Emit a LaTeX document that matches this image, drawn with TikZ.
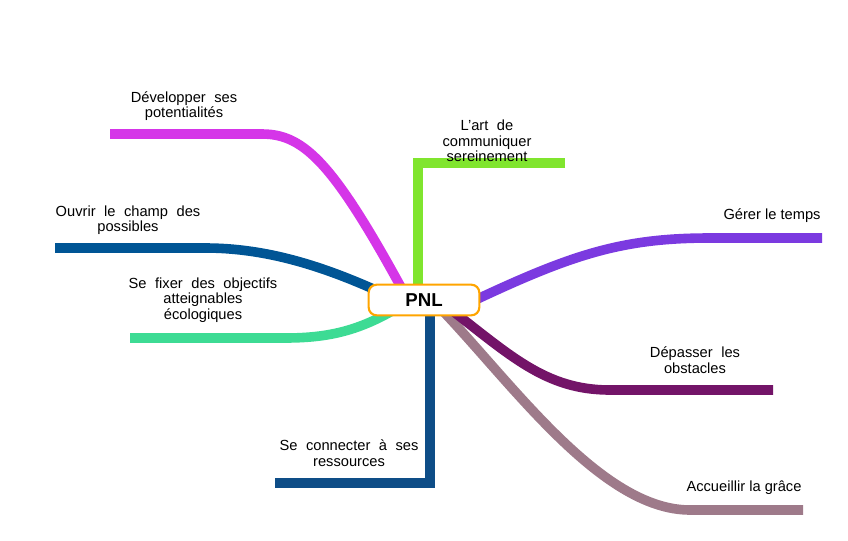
\documentclass[tikz,border=0pt]{standalone}
\usepackage{fontspec}
\setmainfont{Liberation Sans}
\usetikzlibrary{backgrounds}
\definecolor{cMag}{HTML}{D535E8}
\definecolor{cGreen}{HTML}{80E52E}
\definecolor{cBlue}{HTML}{005595}
\definecolor{cTeal}{HTML}{3DDB94}
\definecolor{cBlueB}{HTML}{0E4D87}
\definecolor{cPurple}{HTML}{7B3AE0}
\definecolor{cDPurple}{HTML}{731468}
\definecolor{cMauve}{HTML}{9E7A8A}
\definecolor{cOrange}{HTML}{FFA500}
\newcommand\wsp{\hskip 0.58em\relax}
\tikzset{
  branch/.style={line width=7.2pt},
  lbl/.style={align=center, font=\fontsize{11}{11.5}\selectfont, inner sep=0pt},
  central/.style={draw=cOrange, line width=1.6pt, fill=white, rounded corners=6pt,
    minimum width=83pt, minimum height=23pt, font=\fontsize{14}{16}\selectfont\bfseries}
}
\begin{document}
\begin{tikzpicture}[x=0.75pt,y=-0.75pt]
\useasboundingbox (0,0) rectangle (848,540);
\node[central] (c) at (424,300) {PNL};
% branch end points
\coordinate (mA) at (110,134);
\coordinate (gA) at (565,163);
\coordinate (bA) at (55,248);
\coordinate (tA) at (130,338);
\coordinate (kA) at (275,483);
\coordinate (pA) at (822,238);
\coordinate (dA) at (773,390);
\coordinate (uA) at (803,510);
\begin{scope}[on background layer]
\draw[branch, cMag] (mA) -- (262,134) .. controls (305,134) and (335,165) .. ([xshift=-12pt]c.center);
\draw[branch, cGreen] (gA) -- (418,163) -- ([xshift=-4.5pt]c.center);
\draw[branch, cBlue] (bA) -- (205,248) .. controls (270,248) and (330,268) .. ([xshift=-20pt]c.center);
\draw[branch, cTeal] (tA) -- (285,338) .. controls (330,338) and (360,330) .. ([xshift=-20pt,yshift=-6pt]c.center);
\draw[branch, cBlueB] (kA) -- (430,483) -- ([xshift=4.5pt]c.center);
\draw[branch, cPurple] (pA) -- (710,238) .. controls (620,238) and (570,255) .. ([xshift=30pt,yshift=-4pt]c.center);
\draw[branch, cMauve] (uA) -- (690,510) .. controls (600,510) and (510,380) .. ([xshift=10pt,yshift=-4pt]c.center);
\draw[branch, cDPurple] (dA) -- (610,390) .. controls (545,390) and (510,355) .. ([xshift=16pt,yshift=-4pt]c.center);
\end{scope}
\node[lbl] (l1) at (184,106) {Développer\wsp ses\\potentialités};
\node[lbl] (l2) at (487,141) {L'art\wsp de\\communiquer\\sereinement};
\node[lbl] (l3) at (128,220) {Ouvrir\wsp le\wsp champ\wsp des\\possibles};
\node[lbl] (l4) at (203,300) {Se\wsp fixer\wsp des\wsp objectifs\\atteignables\\écologiques};
\node[lbl] (l5) at (349,453) {Se\wsp connecter\wsp à\wsp ses\\ressources};
\node[lbl] (l6) at (772,216) {Gérer le temps};
\node[lbl] (l7) at (695,360) {Dépasser\wsp les\\obstacles};
\node[lbl] (l8) at (744,488) {Accueillir la grâce};
\end{tikzpicture}
\end{document}
